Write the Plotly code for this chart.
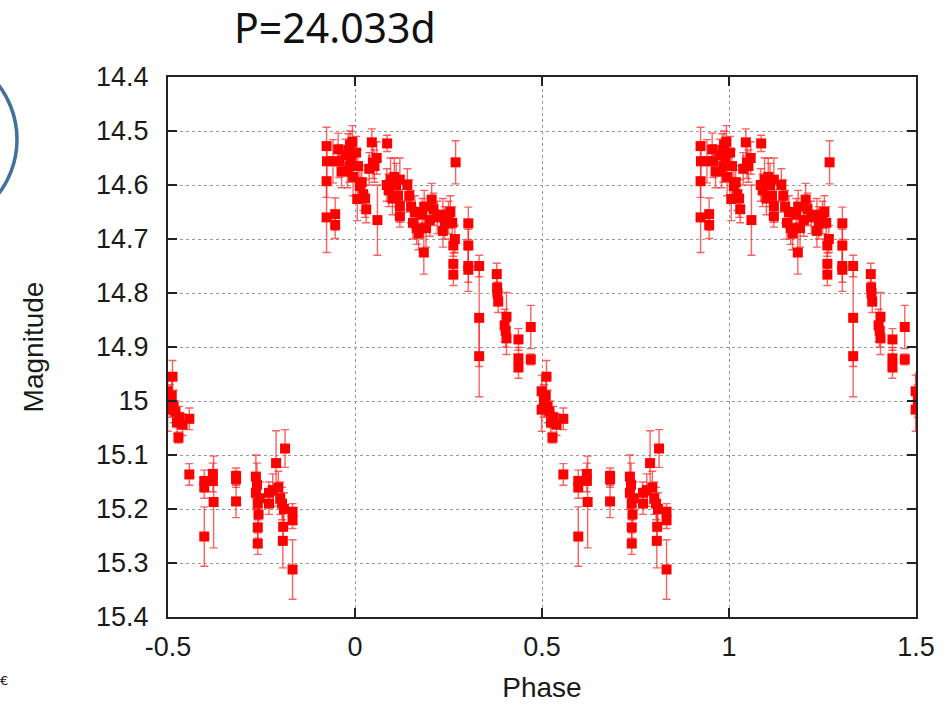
import numpy as np
import plotly.graph_objects as go

# base phases (0..1), magnitudes and errors
phase = [0.924, 0.925, 0.924, 0.924, 0.947, 0.947, 0.941, 0.955, 0.958, 0.964,
         0.975, 0.982, 0.987, 0.993, 0.990, 0.980, 0.995, 0.985,
         0.003, 0.008, 0.013, 0.018, 0.006, 0.022, 0.027, 0.030, 0.045, 0.048,
         0.052, 0.058, 0.038, 0.060, 0.086, 0.085, 0.095, 0.105, 0.110, 0.120,
         0.090, 0.115, 0.120, 0.120, 0.100,
         0.140, 0.145, 0.150, 0.160, 0.165, 0.155, 0.170, 0.184, 0.180, 0.185,
         0.190, 0.200, 0.210, 0.205, 0.220, 0.235, 0.235, 0.240, 0.250, 0.255,
         0.260, 0.267, 0.269, 0.263, 0.263, 0.263, 0.303, 0.303, 0.303, 0.303,
         0.332, 0.332, 0.332, 0.379, 0.380, 0.381, 0.383, 0.405, 0.403, 0.405,
         0.400, 0.437, 0.437, 0.437, 0.470, 0.470,
         0.512, 0.499, 0.510, 0.505, 0.515, 0.499, 0.520, 0.530, 0.539, 0.557,
         0.528, 0.524,
         0.557, 0.597, 0.597, 0.620, 0.620, 0.622, 0.597, 0.682, 0.682, 0.682,
         0.735, 0.738, 0.735, 0.740, 0.742, 0.740, 0.740, 0.745, 0.770, 0.780,
         0.789, 0.795, 0.800, 0.805, 0.813, 0.808, 0.807, 0.833, 0.833, 0.833,
         0.770, 0.810]
mag = [14.528, 14.556, 14.593, 14.660, 14.654, 14.674, 14.556, 14.534, 14.556, 14.575,
       14.545, 14.535, 14.525, 14.520, 14.555, 14.575, 14.585, 14.565,
       14.540, 14.565, 14.602, 14.595, 14.626, 14.617, 14.625, 14.645, 14.521, 14.558,
       14.565, 14.550, 14.570, 14.665, 14.523, 14.600, 14.590, 14.585, 14.600, 14.590,
       14.610, 14.620, 14.639, 14.658, 14.625,
       14.600, 14.620, 14.640, 14.650, 14.680, 14.670, 14.690, 14.725, 14.655, 14.640,
       14.680, 14.665, 14.645, 14.627, 14.660, 14.655, 14.685, 14.670, 14.660, 14.650,
       14.670, 14.700, 14.558, 14.712, 14.746, 14.766, 14.671, 14.712, 14.750, 14.757,
       14.750, 14.846, 14.917, 14.765, 14.790, 14.800, 14.816, 14.844, 14.870, 14.884,
       14.860, 14.886, 14.921, 14.938, 14.863, 14.923,
       14.955, 14.982, 14.990, 15.000, 15.010, 15.016, 15.020, 15.030, 15.044, 15.033,
       15.068, 15.040,
       15.136, 15.160, 15.148, 15.135, 15.148, 15.187, 15.251, 15.139, 15.145, 15.186,
       15.140, 15.155, 15.170, 15.190, 15.210, 15.234, 15.264, 15.180, 15.170, 15.165,
       15.115, 15.160, 15.180, 15.190, 15.088, 15.233, 15.259, 15.205, 15.221, 15.312,
       15.190, 15.200]
err = [0.035, 0.030, 0.030, 0.065, 0.030, 0.025, 0.040, 0.030, 0.030, 0.030,
       0.030, 0.030, 0.025, 0.030, 0.030, 0.030, 0.035, 0.030,
       0.030, 0.030, 0.030, 0.030, 0.040, 0.030, 0.035, 0.025, 0.025, 0.030,
       0.030, 0.030, 0.030, 0.065, 0.015, 0.030, 0.040, 0.035, 0.040, 0.040,
       0.030, 0.035, 0.030, 0.020, 0.030,
       0.030, 0.030, 0.030, 0.030, 0.030, 0.030, 0.030, 0.040, 0.030, 0.030,
       0.035, 0.030, 0.030, 0.030, 0.030, 0.030, 0.030, 0.030, 0.030, 0.030,
       0.030, 0.025, 0.040, 0.020, 0.020, 0.020, 0.030, 0.030, 0.030, 0.040,
       0.020, 0.090, 0.075, 0.020, 0.020, 0.020, 0.020, 0.045, 0.030, 0.030,
       0.030, 0.020, 0.020, 0.020, 0.040, 0.010,
       0.030, 0.030, 0.030, 0.030, 0.030, 0.040, 0.020, 0.020, 0.020, 0.020,
       0.010, 0.020,
       0.020, 0.020, 0.020, 0.020, 0.020, 0.085, 0.055, 0.015, 0.015, 0.030,
       0.040, 0.040, 0.030, 0.030, 0.030, 0.020, 0.020, 0.030, 0.020, 0.030,
       0.060, 0.030, 0.030, 0.030, 0.035, 0.030, 0.050, 0.015, 0.015, 0.055,
       0.020, 0.030]

x_ticks = [-0.5, 0, 0.5, 1, 1.5]
x_labels = ["-0.5", "0", "0.5", "1", "1.5"]
y_ticks = [14.4, 14.5, 14.6, 14.7, 14.8, 14.9, 15.0, 15.1, 15.2, 15.3, 15.4]
y_labels = ["14.4", "14.5", "14.6", "14.7", "14.8", "14.9", "15", "15.1", "15.2", "15.3", "15.4"]

p = np.array(phase)
m = np.array(mag)
e = np.array(err)
xs = np.concatenate([p - 1, p, p + 1])
ys = np.concatenate([m, m, m])
es = np.concatenate([e, e, e])
keep = (xs >= -0.52) & (xs <= 1.52)

fig = go.Figure()
fig.add_trace(go.Scatter(
    x=xs[keep], y=ys[keep], mode="markers",
    marker=dict(symbol="square", size=10, color="#ff0000", line=dict(width=0)),
    error_y=dict(type="data", array=es[keep], visible=True,
                 color="rgba(255,30,30,0.7)", thickness=1.4, width=4),
    cliponaxis=True, showlegend=False,
))

tickfont = dict(family="Liberation Sans, Arial, sans-serif", size=27, color="#1a1a1a")
titlefont = dict(family="Liberation Sans, Arial, sans-serif", size=28, color="#1a1a1a")

# plot area targeted at x 168..916, y 77..620 (page body margin removed below)
L, T = 168, 77
W, H = 951, 710
PW, PH = 748, 545
fig.update_layout(
    width=W, height=H,
    margin=dict(l=L, r=W - L - PW, t=T, b=H - T - PH),
    paper_bgcolor="white", plot_bgcolor="white",
    font=tickfont,
    xaxis=dict(range=[-0.5, 1.5], tickvals=x_ticks, ticktext=x_labels,
               showline=True, linecolor="#222", linewidth=2, mirror="ticks",
               ticks="inside", ticklen=9, tickwidth=2, tickcolor="#222",
               showgrid=True, gridcolor="#999", griddash="dot", gridwidth=1,
               zeroline=False, tickfont=tickfont, ticklabelstandoff=5,
               title=dict(text="Phase", font=titlefont, standoff=16)),
    yaxis=dict(range=[15.4, 14.4], tickvals=y_ticks, ticktext=y_labels,
               showline=True, linecolor="#222", linewidth=2, mirror="ticks",
               ticks="inside", ticklen=9, tickwidth=2, tickcolor="#222",
               showgrid=True, gridcolor="#999", griddash="dot", gridwidth=1,
               zeroline=False, tickfont=tickfont, ticklabelstandoff=12,
               title=dict(text="Magnitude", font=titlefont, standoff=44)),
    shapes=[dict(type="circle", xref="paper", yref="paper",
                 x0=(-165 - L) / PW, x1=(17 - L) / PW,
                 y0=(T + PH - 231) / PH, y1=(T + PH - 49) / PH,
                 line=dict(color="#41719C", width=3.5))],
    annotations=[
        dict(text="P=24.033d", xref="paper", yref="paper", x=(335 - L) / PW,
             y=(T + PH + 4) / PH, xanchor="center", yanchor="top", showarrow=False,
             font=dict(family="Noto Sans, Open Sans, sans-serif", size=41, color="#111")),
        dict(text="€", xref="paper", yref="paper", x=(10 - L) / PW,
             y=(T + PH - 686) / PH, xanchor="right", yanchor="middle", showarrow=False,
             font=dict(family="DejaVu Sans", size=13, color="#111")),
    ],
)

fig.write_html("out.html", config={"displayModeBar": False},
               post_script="document.body.style.margin='0';document.body.style.overflow='hidden';")
